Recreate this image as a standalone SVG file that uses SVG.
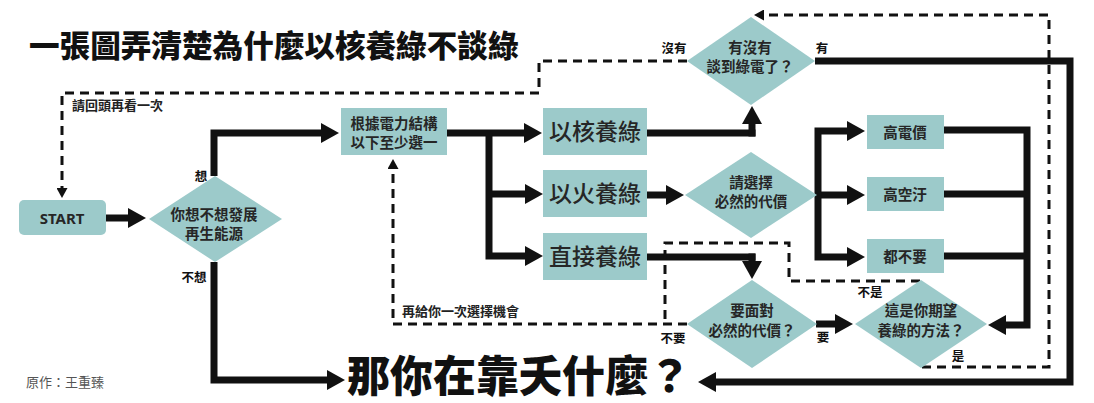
<svg xmlns="http://www.w3.org/2000/svg" width="1094" height="403" viewBox="0 0 1094 403">
<defs>
<style>
.box{fill:#9ccaca}
.t{font-family:"Noto Sans CJK TC","Noto Sans",sans-serif;fill:#262626;text-anchor:middle}
.d{font-size:14.5px;font-weight:700}
.big{font-size:23px;font-weight:500}
.lbl{font-family:"Noto Sans CJK TC",sans-serif;font-size:12.5px;font-weight:700;fill:#111;text-anchor:middle}
.note{font-family:"Noto Sans CJK TC",sans-serif;font-size:13px;font-weight:700;fill:#222}
.solid{fill:none;stroke:#111;stroke-width:7;stroke-linejoin:miter}
.dash{fill:none;stroke:#111;stroke-width:3;stroke-dasharray:9 6}
</style>
<marker id="ah" markerUnits="userSpaceOnUse" markerWidth="18" markerHeight="20" viewBox="0 0 18 20" refX="1" refY="10" orient="auto"><path d="M0,0 L18,10 L0,20 z" fill="#111"/></marker>
<marker id="ahs" markerUnits="userSpaceOnUse" markerWidth="10" markerHeight="11" viewBox="0 0 10 11" refX="1" refY="5.5" orient="auto"><path d="M0,0 L10,5.5 L0,11 z" fill="#111"/></marker>
</defs>
<rect width="1094" height="403" fill="#fff"/>
<text x="29" y="57" style="font-family:'Noto Sans CJK TC',sans-serif;font-size:30.6px;font-weight:900;fill:#111">一張圖弄清楚為什麼以核養綠不談綠</text>

<g id="connectors">
<path class="solid" d="M106,218 H129" marker-end="url(#ah)"/>
<path class="solid" d="M214,176 V133 H322" marker-end="url(#ah)"/>
<path class="solid" d="M214,262 V380 H328" marker-end="url(#ah)"/>
<path class="solid" d="M447,133 H525" marker-end="url(#ah)"/>
<path class="solid" d="M489,133 V256 H526" marker-end="url(#ah)"/>
<path class="solid" d="M489,194 H526" marker-end="url(#ah)"/>
<path class="solid" d="M647,133 H755.5"/>
<path class="solid" d="M752,136.5 V123" marker-end="url(#ah)"/>
<path class="solid" d="M647,195 H667" marker-end="url(#ah)"/>
<path class="solid" d="M817,195 H848" marker-end="url(#ah)"/>
<path class="solid" d="M818,195 V131 H848" marker-end="url(#ah)"/>
<path class="solid" d="M818,195 V257 H848" marker-end="url(#ah)"/>
<path class="solid" d="M944,130 H1027 V325 H1005" marker-end="url(#ah)"/>
<path class="solid" d="M944,194 H1027"/>
<path class="solid" d="M944,256 H1027"/>
<path class="solid" d="M647,257 H755.5"/>
<path class="solid" d="M752,253.5 V262" marker-end="url(#ah)"/>
<path class="solid" d="M816,324 H836" marker-end="url(#ah)"/>
<path class="solid" d="M815,61 H1070 V382 H715" marker-end="url(#ah)"/>
<path class="dash" d="M687,61 H539 V93 H62 V189" marker-end="url(#ahs)"/>
<path class="dash" d="M920,281 H789 V243 H665 V324"/>
<path class="dash" d="M687,324 H393 V168" marker-end="url(#ahs)"/>
<path class="dash" d="M922,367 H1049 V15 H763" marker-end="url(#ahs)"/>
</g>

<g id="start">
<rect class="box" x="19" y="200" width="87" height="35" rx="5"/>
<text x="62" y="223.5" style="font-family:'Noto Sans','Open Sans',sans-serif;font-size:15px;font-weight:700;fill:#262626;text-anchor:middle">START</text>
</g>
<g id="q-renewable">
<polygon class="box" points="215,176 282,219 215,262 149,219"/>
<text class="t d" x="214" y="219.5">你想不想發展</text>
<text class="t d" x="214" y="238.5">再生能源</text>
</g>
<g id="choose">
<rect class="box" x="341" y="108" width="106" height="47"/>
<text class="t" x="394" y="128.5" style="font-size:14.5px;font-weight:700">根據電力結構</text>
<text class="t" x="394" y="147.5" style="font-size:14.5px;font-weight:700">以下至少選一</text>
</g>
<g id="nuclear">
<rect class="box" x="543" y="108" width="104" height="47"/>
<text class="t big" x="595" y="140">以核養綠</text>
</g>
<g id="fire">
<rect class="box" x="543" y="170" width="104" height="47"/>
<text class="t big" x="595" y="202">以火養綠</text>
</g>
<g id="direct">
<rect class="box" x="543" y="233" width="104" height="47"/>
<text class="t big" x="595" y="265">直接養綠</text>
</g>
<g id="q-green">
<polygon class="box" points="751,17 815,61 751,105 687,61"/>
<text class="t d" x="750" y="53">有沒有</text>
<text class="t d" x="750" y="72">談到綠電了？</text>
</g>
<g id="q-cost">
<polygon class="box" points="751,152 817,195 751,238 685,195"/>
<text class="t d" x="751" y="187.5">請選擇</text>
<text class="t d" x="751" y="206.5">必然的代價</text>
</g>
<g id="high-price">
<rect class="box" x="867" y="115" width="77" height="34"/>
<text class="t d" x="905" y="137.5">高電價</text>
</g>
<g id="high-pollution">
<rect class="box" x="867" y="177" width="77" height="34"/>
<text class="t d" x="905" y="199.5">高空汙</text>
</g>
<g id="none">
<rect class="box" x="867" y="239" width="77" height="34"/>
<text class="t d" x="905" y="261.5">都不要</text>
</g>
<g id="q-face">
<polygon class="box" points="752,280 817,324 752,368 687,324"/>
<text class="t d" x="752" y="315.5">要面對</text>
<text class="t d" x="752" y="335.5">必然的代價？</text>
</g>
<g id="q-expected">
<polygon class="box" points="921,280 987,324 921,368 855,324"/>
<text class="t d" x="921" y="315.5">這是你期望</text>
<text class="t d" x="921" y="335.5">養綠的方法？</text>
</g>
<g id="end">
<text x="347" y="392" style="font-family:'Noto Sans CJK TC',sans-serif;font-size:43px;font-weight:900;fill:#111">那你在靠夭什麼？</text>
</g>

<g id="labels">
<text class="lbl" x="201" y="180.5">想</text>
<text class="lbl" x="194" y="282">不想</text>
<text class="lbl" x="674" y="53">沒有</text>
<text class="lbl" x="822" y="53">有</text>
<text class="lbl" x="673" y="343">不要</text>
<text class="lbl" x="823" y="342">要</text>
<text class="lbl" x="870" y="297">不是</text>
<text class="lbl" x="958" y="361">是</text>
<text class="note" x="72" y="110">請回頭再看一次</text>
<text class="note" x="402" y="316">再給你一次選擇機會</text>
<text x="26" y="387" style="font-family:'Noto Sans CJK TC',sans-serif;font-size:13px;fill:#555">原作：王重臻</text>
</g>
</svg>
